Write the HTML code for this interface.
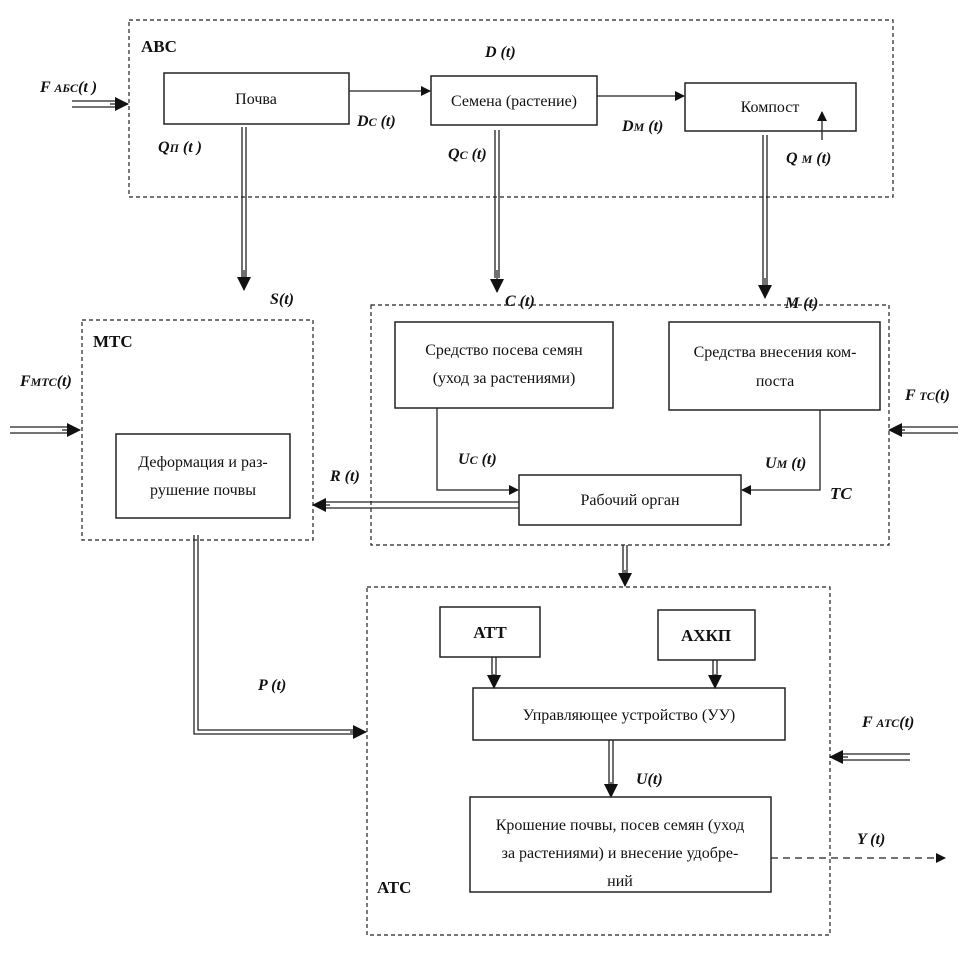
<!DOCTYPE html>
<html><head><meta charset="utf-8"><style>
html,body{margin:0;padding:0;background:#fff}
svg{display:block}
text{font-family:"Liberation Serif",serif;fill:#111}
.b{fill:#fff;stroke:#222;stroke-width:1.5}
.d{fill:none;stroke:#222;stroke-width:1.2;stroke-dasharray:4,3}
.l{stroke:#222;stroke-width:1.3;fill:none}
.t{font-size:16px;text-anchor:middle}
.i{font-size:16px;font-style:italic;font-weight:bold}
.h{font-size:17px;font-weight:bold}
</style></head><body>
<svg width="975" height="956" viewBox="0 0 975 956" xmlns="http://www.w3.org/2000/svg">
<defs>
<marker id="a" markerWidth="10" markerHeight="10" refX="9" refY="5" orient="auto" markerUnits="userSpaceOnUse"><path d="M0,0 L10,5 L0,10z" fill="#111"/></marker>
<marker id="A" markerWidth="14" markerHeight="14" refX="13" refY="7" orient="auto" markerUnits="userSpaceOnUse"><path d="M0,0 L14,7 L0,14z" fill="#111"/></marker>
</defs>
<!-- ABC -->
<rect class="d" x="129" y="20" width="764" height="177"/>
<text class="h" x="141" y="52">АВС</text>
<rect class="b" x="164" y="73" width="185" height="51"/><text class="t" x="256" y="104">Почва</text>
<rect class="b" x="431" y="76" width="166" height="49"/><text class="t" x="514" y="106">Семена (растение)</text>
<rect class="b" x="685" y="83" width="171" height="48"/><text class="t" x="770" y="112">Компост</text>
<line class="l" x1="349" y1="91" x2="430" y2="91" marker-end="url(#a)"/>
<line class="l" x1="597" y1="96" x2="684" y2="96" marker-end="url(#a)"/>
<line class="l" x1="822" y1="140" x2="822" y2="112" marker-end="url(#a)"/>
<text class="i" x="40" y="92">F <tspan font-size="12">АБС</tspan>(t )</text>
<path class="l" d="M72,101 H118 M72,107 H118"/><line class="l" x1="110" y1="104" x2="128" y2="104" marker-end="url(#A)"/>
<text class="i" x="158" y="152">Q<tspan font-size="12">П</tspan> (t )</text>
<text class="i" x="357" y="126">D<tspan font-size="12">С</tspan> (t)</text>
<text class="i" x="485" y="57">D (t)</text>
<text class="i" x="622" y="131">D<tspan font-size="12">М</tspan> (t)</text>
<text class="i" x="448" y="159">Q<tspan font-size="12">С</tspan> (t)</text>
<text class="i" x="786" y="163">Q <tspan font-size="12">М</tspan> (t)</text>
<!-- verticals -->
<path class="l" d="M242,127 V278 M246,127 V278"/><line class="l" x1="244" y1="270" x2="244" y2="290" marker-end="url(#A)"/>
<path class="l" d="M495,130 V278 M499,130 V278"/><line class="l" x1="497" y1="270" x2="497" y2="292" marker-end="url(#A)"/>
<path class="l" d="M763,135 V285 M767,135 V285"/><line class="l" x1="765" y1="278" x2="765" y2="298" marker-end="url(#A)"/>
<text class="i" x="270" y="304">S(t)</text>
<text class="i" x="505" y="306">C (t)</text>
<text class="i" x="785" y="308">M (t)</text>
<!-- MTC -->
<rect class="d" x="82" y="320" width="231" height="220"/>
<text class="h" x="93" y="347">МТС</text>
<text class="i" x="20" y="386">F<tspan font-size="12">МТС</tspan>(t)</text>
<path class="l" d="M10,427 H70 M10,433 H70"/><line class="l" x1="62" y1="430" x2="80" y2="430" marker-end="url(#A)"/>
<rect class="b" x="116" y="434" width="174" height="84"/>
<text class="t" x="203" y="467">Деформация и раз-</text><text class="t" x="203" y="495">рушение почвы</text>
<!-- TC -->
<rect class="d" x="371" y="305" width="518" height="240"/>
<rect class="b" x="395" y="322" width="218" height="86"/>
<text class="t" x="504" y="355">Средство посева семян</text><text class="t" x="504" y="383">(уход за растениями)</text>
<rect class="b" x="669" y="322" width="211" height="88"/>
<text class="t" x="775" y="357">Средства внесения ком-</text><text class="t" x="775" y="386">поста</text>
<rect class="b" x="519" y="475" width="222" height="50"/><text class="t" x="630" y="505">Рабочий орган</text>
<path class="l" d="M437,408 V490 H518" marker-end="url(#a)"/>
<path class="l" d="M820,410 V490 H742" marker-end="url(#a)"/>
<text class="i" x="458" y="464">U<tspan font-size="12">С</tspan> (t)</text>
<text class="i" x="765" y="468">U<tspan font-size="12">М</tspan> (t)</text>
<text class="h" x="830" y="499" font-style="italic">ТС</text>
<text class="i" x="905" y="400">F <tspan font-size="12">ТС</tspan>(t)</text>
<path class="l" d="M900,427 H958 M900,433 H958"/><line class="l" x1="905" y1="430" x2="889" y2="430" marker-end="url(#A)"/>
<text class="i" x="330" y="481">R (t)</text>
<path class="l" d="M325,502 H519 M325,508 H519"/><line class="l" x1="330" y1="505" x2="313" y2="505" marker-end="url(#A)"/>
<path class="l" d="M623,545 V575 M627,545 V575"/><line class="l" x1="625" y1="570" x2="625" y2="586" marker-end="url(#A)"/>
<!-- P -->
<path class="l" d="M194,535 V734 H355 M198,535 V730 H355"/><line class="l" x1="350" y1="732" x2="366" y2="732" marker-end="url(#A)"/>
<text class="i" x="258" y="690">P (t)</text>
<!-- ATC -->
<rect class="d" x="367" y="587" width="463" height="348"/>
<text class="h" x="377" y="893">АТС</text>
<rect class="b" x="440" y="607" width="100" height="50"/><text class="h" x="490" y="638" text-anchor="middle">АТТ</text>
<rect class="b" x="658" y="610" width="97" height="50"/><text class="h" x="706" y="641" text-anchor="middle">АХКП</text>
<rect class="b" x="473" y="688" width="312" height="52"/><text class="t" x="629" y="720">Управляющее устройство (УУ)</text>
<path class="l" d="M492,657 V678 M496,657 V678"/><line class="l" x1="494" y1="674" x2="494" y2="688" marker-end="url(#A)"/>
<path class="l" d="M713,660 V678 M717,660 V678"/><line class="l" x1="715" y1="674" x2="715" y2="688" marker-end="url(#A)"/>
<path class="l" d="M609,740 V785 M613,740 V785"/><line class="l" x1="611" y1="782" x2="611" y2="797" marker-end="url(#A)"/>
<text class="i" x="636" y="784">U(t)</text>
<rect class="b" x="470" y="797" width="301" height="95"/>
<text class="t" x="620" y="830">Крошение почвы, посев семян (уход</text>
<text class="t" x="620" y="858">за растениями) и внесение удобре-</text>
<text class="t" x="620" y="886">ний</text>
<line class="l" x1="771" y1="858" x2="945" y2="858" stroke-dasharray="7,5" stroke-width="2" marker-end="url(#a)"/>
<text class="i" x="857" y="844">Y (t)</text>
<text class="i" x="862" y="727">F <tspan font-size="12">АТС</tspan>(t)</text>
<path class="l" d="M842,754 H910 M842,760 H910"/><line class="l" x1="848" y1="757" x2="830" y2="757" marker-end="url(#A)"/>
</svg>
</body></html>
